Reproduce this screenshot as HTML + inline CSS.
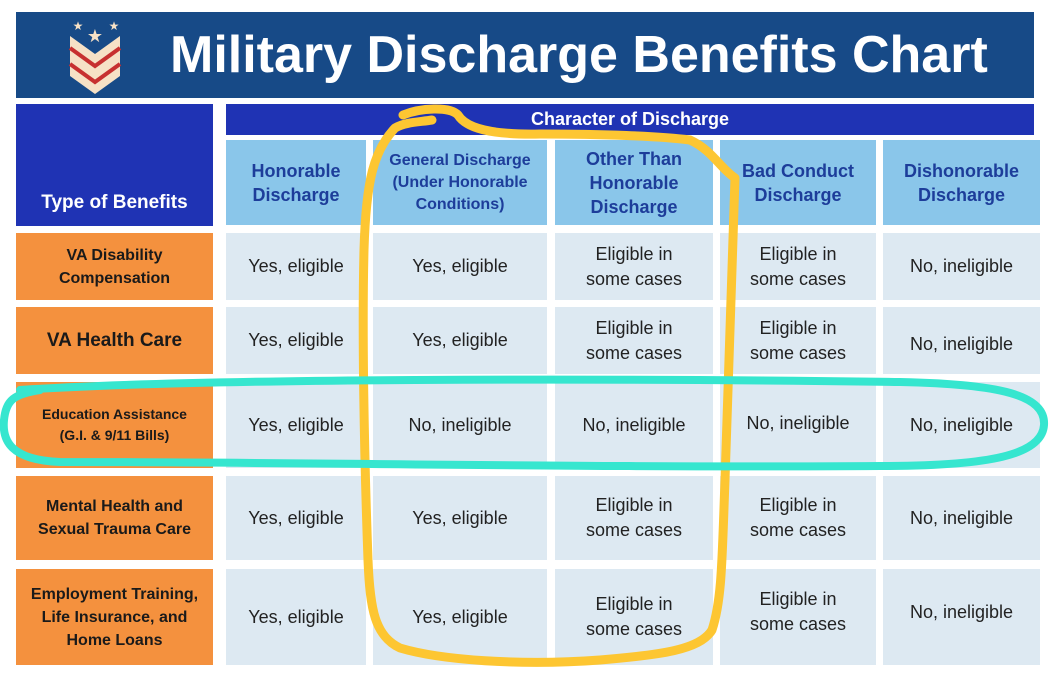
<!DOCTYPE html>
<html><head><meta charset="utf-8"><style>
body{margin:0;width:1050px;height:675px;background:#fff;position:relative;overflow:hidden;font-family:"Liberation Sans",sans-serif}
.b{position:absolute;display:flex;align-items:center;justify-content:center;text-align:center;box-sizing:border-box}
.h{background:#8ac6ea;color:#1d3d9a;font-weight:bold;font-size:18px;line-height:24px}
.c{background:#dde9f2;color:#222;font-size:18px;line-height:25px}
.o{background:#f4913e;color:#1a1a1a;font-weight:bold;font-size:16px;line-height:23px}
</style></head><body>
<div class="b" style="left:16px;top:12px;width:1018px;height:86px;background:#174a87"></div>
<div class="b" style="left:170px;top:12px;width:860px;height:86px;justify-content:flex-start;color:#fff;font-weight:bold;font-size:52px">Military Discharge Benefits Chart</div>
<svg style="position:absolute;left:60px;top:14px" width="70" height="82" viewBox="0 0 70 82">
<polygon points="10,22 35,40 60,22 60,62 35,80 10,62" fill="#f6e1c6"/>
<polyline points="10,34 35,52 60,34" fill="none" stroke="#c73030" stroke-width="4"/>
<polyline points="10,50 35,68 60,50" fill="none" stroke="#c73030" stroke-width="4"/>
<text x="18" y="16" fill="#f6e1c6" font-size="12" text-anchor="middle">★</text>
<text x="54" y="16" fill="#f6e1c6" font-size="12" text-anchor="middle">★</text>
<text x="35" y="28" fill="#f6e1c6" font-size="18" text-anchor="middle">★</text>
</svg>
<div class="b" style="left:16px;top:104px;width:197px;height:122px;background:#1f33b4;color:#fff;font-weight:bold;font-size:19px;align-items:flex-end;padding-bottom:12px">Type of Benefits</div>
<div class="b" style="left:226px;top:104px;width:808px;height:31px;background:#1f33b4;color:#fff;font-weight:bold;font-size:18px">Character of Discharge</div>
<div class="b h" style="left:226px;top:140px;width:140px;height:85px">Honorable<br>Discharge</div>
<div class="b h" style="left:373px;top:140px;width:174px;height:85px;font-size:16px;line-height:22px">General Discharge<br>(Under Honorable<br>Conditions)</div>
<div class="b h" style="left:555px;top:140px;width:158px;height:85px">Other Than<br>Honorable<br>Discharge</div>
<div class="b h" style="left:720px;top:140px;width:156px;height:85px">Bad Conduct<br>Discharge</div>
<div class="b h" style="left:883px;top:140px;width:157px;height:85px">Dishonorable<br>Discharge</div>

<div class="b o" style="left:16px;top:233px;width:197px;height:67px">VA Disability<br>Compensation</div>
<div class="b o" style="left:16px;top:307px;width:197px;height:67px;font-size:19px">VA Health Care</div>
<div class="b o" style="left:16px;top:382px;width:197px;height:86px;font-size:14px;line-height:21px">Education Assistance<br>(G.I. &amp; 9/11 Bills)</div>
<div class="b o" style="left:16px;top:476px;width:197px;height:84px">Mental Health and<br>Sexual Trauma Care</div>
<div class="b o" style="left:16px;top:569px;width:197px;height:96px">Employment Training,<br>Life Insurance, and<br>Home Loans</div>

<div class="b c" style="left:226px;top:233px;width:140px;height:67px">Yes, eligible</div>
<div class="b c" style="left:373px;top:233px;width:174px;height:67px">Yes, eligible</div>
<div class="b c" style="left:555px;top:233px;width:158px;height:67px">Eligible in<br>some cases</div>
<div class="b c" style="left:720px;top:233px;width:156px;height:67px">Eligible in<br>some cases</div>
<div class="b c" style="left:883px;top:233px;width:157px;height:67px">No, ineligible</div>

<div class="b c" style="left:226px;top:307px;width:140px;height:67px">Yes, eligible</div>
<div class="b c" style="left:373px;top:307px;width:174px;height:67px">Yes, eligible</div>
<div class="b c" style="left:555px;top:307px;width:158px;height:67px">Eligible in<br>some cases</div>
<div class="b c" style="left:720px;top:307px;width:156px;height:67px">Eligible in<br>some cases</div>
<div class="b c" style="left:883px;top:307px;width:157px;height:67px;padding-top:8px">No, ineligible</div>

<div class="b c" style="left:226px;top:382px;width:140px;height:86px">Yes, eligible</div>
<div class="b c" style="left:373px;top:382px;width:174px;height:86px">No, ineligible</div>
<div class="b c" style="left:555px;top:382px;width:158px;height:86px">No, ineligible</div>
<div class="b c" style="left:720px;top:382px;width:156px;height:86px;padding-bottom:4px">No, ineligible</div>
<div class="b c" style="left:883px;top:382px;width:157px;height:86px">No, ineligible</div>

<div class="b c" style="left:226px;top:476px;width:140px;height:84px">Yes, eligible</div>
<div class="b c" style="left:373px;top:476px;width:174px;height:84px">Yes, eligible</div>
<div class="b c" style="left:555px;top:476px;width:158px;height:84px">Eligible in<br>some cases</div>
<div class="b c" style="left:720px;top:476px;width:156px;height:84px">Eligible in<br>some cases</div>
<div class="b c" style="left:883px;top:476px;width:157px;height:84px">No, ineligible</div>

<div class="b c" style="left:226px;top:569px;width:140px;height:96px">Yes, eligible</div>
<div class="b c" style="left:373px;top:569px;width:174px;height:96px">Yes, eligible</div>
<div class="b c" style="left:555px;top:569px;width:158px;height:96px">Eligible in<br>some cases</div>
<div class="b c" style="left:720px;top:569px;width:156px;height:96px;padding-bottom:10px">Eligible in<br>some cases</div>
<div class="b c" style="left:883px;top:569px;width:157px;height:96px;padding-bottom:10px">No, ineligible</div>

<svg style="position:absolute;left:0;top:0" width="1050" height="675">
<path d="M403,115 C420,108 450,106 458,115 C466,128 490,135 540,134 C600,134 660,136 690,140 C712,150 720,168 735,178 C732,260 728,400 725,480 C722,560 722,600 712,630 C700,650 660,655 600,660 C520,666 440,660 400,648 C375,636 370,610 368,560 C364,450 362,330 364,250 C366,180 374,150 395,128 C405,122 420,122 432,120" fill="none" stroke="#fdc632" stroke-width="9" stroke-linecap="round" stroke-linejoin="round"/>
<path d="M20,390 C200,378 600,378 900,382 C1000,384 1046,395 1044,425 C1042,455 990,466 880,466 C600,468 300,462 60,462 C10,460 2,440 4,420 C6,400 14,394 40,390" fill="none" stroke="#36e6cf" stroke-width="8" stroke-linecap="round"/>
</svg>
</body></html>
